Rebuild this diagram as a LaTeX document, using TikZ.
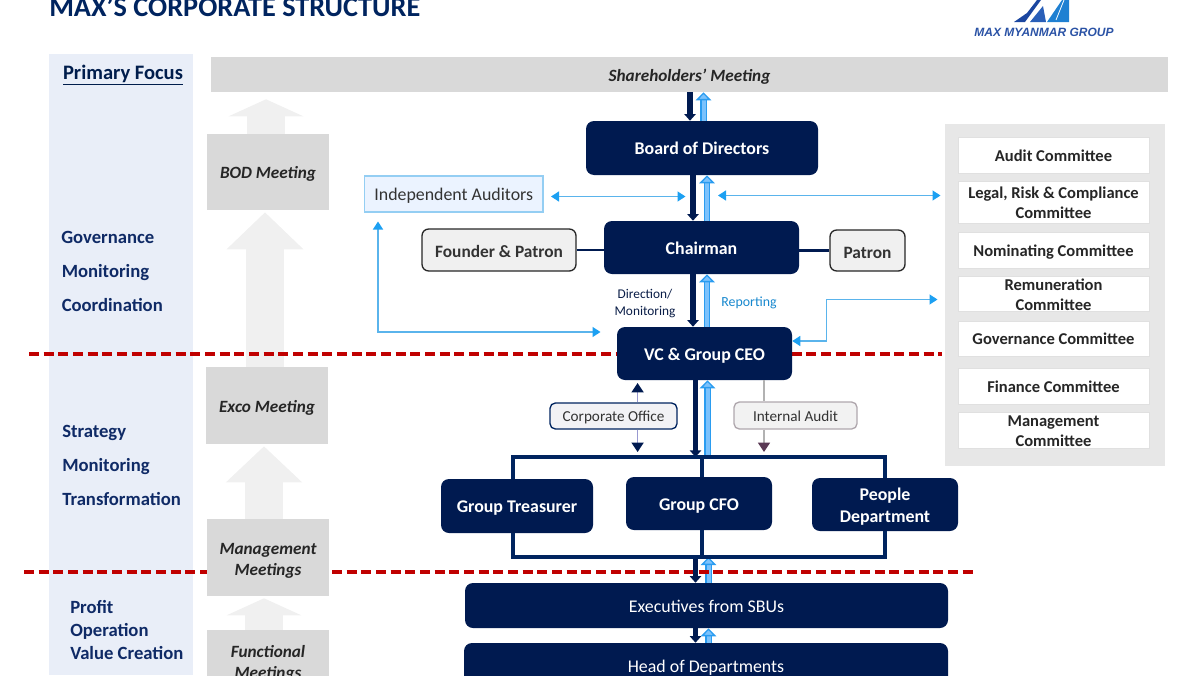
\documentclass[tikz,border=0pt]{standalone}
\usepackage{fontspec}
\setmainfont{Carlito}
\newfontfamily\logofont{Liberation Sans}
\usetikzlibrary{arrows.meta}
\pgfdeclarelayer{under}
\pgfsetlayers{under,main}
\definecolor{navy}{HTML}{001A50}
\definecolor{framenavy}{HTML}{00245F}
\definecolor{sidebar}{HTML}{E9EEF8}
\definecolor{midgray}{HTML}{D9D9D9}
\definecolor{palegray}{HTML}{F0F0F0}
\definecolor{panelgray}{HTML}{E7E7E7}
\definecolor{redline}{HTML}{C00000}
\definecolor{skyline}{HTML}{5AB4EC}
\definecolor{skytip}{HTML}{1CA0F2}
\definecolor{skyfill}{HTML}{7CC2FC}
\definecolor{skyedge}{HTML}{2A9CF0}
\definecolor{labelnavy}{HTML}{0F2A66}
\definecolor{plum}{HTML}{5B3A55}
\definecolor{logodark}{HTML}{1B46A0}
\definecolor{logomid}{HTML}{2A5FB8}
\definecolor{logolight}{HTML}{1F80D2}
\definecolor{logotextc}{HTML}{2A52A5}
\newcommand\nd[7][]{\node[#1,minimum width={(#5-#3)*0.75pt},minimum height={(#6-#4)*0.75pt}] (#2) at ({(#3+#5)/2},{(#4+#6)/2}) {#7};}
\newcommand\twoline[4][85pt]{\raisebox{#2}[0pt][0pt]{\parbox[c]{#1}{\centering #3\\#4}}}
\tikzset{
 base/.style={inner sep=0pt,align=center},
 vstrut/.style={execute at begin node={\rule[-.2em]{0pt}{#1}}},
 navybox/.style={base,vstrut=1.14em,fill=navy,rounded corners=6pt,text=white,font=\fontsize{13.4}{16.5}\selectfont\bfseries},
 widebox/.style={base,vstrut=1.14em,fill=navy,rounded corners=6pt,text=white,font=\fontsize{13.4}{15}\selectfont},
 palebox/.style={base,vstrut=1.27em,fill=black!6,draw=black!85,line width=1pt,rounded corners=5pt,text=black!80,font=\fontsize{13}{15}\selectfont\bfseries},
 meeting/.style={base,vstrut=1.18em,fill=midgray,text=black!85,font=\fontsize{12.9}{15.6}\selectfont\bfseries\itshape},
 committee/.style={base,vstrut=1.14em,fill=white,draw=black!12,line width=.5pt,text=black!85,font=\fontsize{12.4}{15}\selectfont\bfseries},
 focus/.style={inner sep=0pt,anchor=base west,text=labelnavy,font=\fontsize{14}{16}\selectfont\bfseries},
 darkarrow/.style={draw=navy,line width=3.9pt,-{Triangle[length=5pt,width=8.5pt]}},
 skyarrow/.style={draw=skyedge,line width=1pt,double=skyfill,double distance=3pt,-{Triangle[length=6pt,width=11.5pt,fill=skyfill,line width=1pt]}},
 thinarrow/.style={draw=skyline,line width=1pt,{Triangle[length=6pt,width=7.5pt,color=skytip]}-{Triangle[length=6pt,width=7.5pt,color=skytip]}},
 climb/.style={draw=palegray,line width=28.5pt},
 reddash/.style={draw=redline,line width=2.4pt,dash pattern=on 7.6pt off 3.4pt},
 frame/.style={draw=framenavy,line width=2.4pt},
 sideline/.style={draw=navy,line width=1.8pt},
 memo/.style={base,vstrut=1.14em,rounded corners=4pt,line width=1pt,font=\fontsize{11.4}{13}\selectfont,text=black!80},
}
\begin{document}
\begin{tikzpicture}[x=0.75pt,y=-0.75pt]
\useasboundingbox (0,0) rectangle (1200,675);
\clip (0,0) rectangle (1200,675);
\node[inner sep=0pt,anchor=base west,text=framenavy,font=\fontsize{21.2}{24}\selectfont\bfseries] (title) at (49,16) {MAX’S CORPORATE STRUCTURE};
% logo
\fill[logodark] (1014,22) -- (1027,13) -- (1037,0) -- (1041,0) -- (1025,22) -- cycle;
\fill[logomid] (1030,22) -- (1043,6) -- (1046,22) -- cycle;
\fill[logolight] (1047,22) -- (1062,0) -- (1069,0) -- (1069,22) -- cycle;
\draw[white,line width=.6pt] (1056,20) -- (1064,0);
\node[inner sep=0pt,text=logotextc,font=\logofont\fontsize{9}{11}\selectfont\bfseries\itshape] (logotext) at (1044,32) {MAX MYANMAR GROUP};
% boxes
\nd[base,vstrut=1.18em,fill=midgray,font=\fontsize{12.9}{15}\selectfont\bfseries\itshape,text=black!85]{share}{211}{57}{1168}{92}{Shareholders’ Meeting}
\nd[meeting]{bod}{207}{134}{329}{210}{BOD Meeting}
\nd[meeting]{exco}{206}{367}{328}{444}{Exco Meeting}
\nd[meeting]{mgmt}{207}{519}{329}{596}{\twoline{-.5pt}{Management}{Meetings}}
\nd[meeting]{func}{207}{630}{329}{691}{\twoline{0pt}{Functional}{Meetings}}
\nd[widebox]{exec}{465}{583}{948}{628}{Executives from SBUs}
\nd[widebox]{heads}{464}{643}{948}{688}{Head of Departments}
\nd[navybox]{treas}{441}{479}{593}{533}{Group Treasurer}
\nd[navybox]{cfo}{626}{477}{772}{530}{Group CFO}
\nd[navybox]{people}{812}{478}{958}{531}{\twoline{0pt}{People}{Department}}
\nd[navybox]{board}{586}{121}{818}{175}{Board of Directors}
\nd[navybox]{chair}{604}{221}{799}{274}{Chairman}
\nd[navybox]{vc}{617}{327}{792}{380}{VC \& Group CEO}
\nd[palebox]{founder}{422}{229}{576}{271}{Founder \& Patron}
\nd[palebox]{patron}{830}{230}{905}{271}{Patron}
\nd[base,vstrut=1.18em,fill=blue!60!cyan!8,draw=skyline!65,line width=1pt,text=black!80,font=\fontsize{13.4}{15}\selectfont]{audit}{364.5}{176}{543}{212}{Independent Auditors}
\nd[memo,fill=blue!20!black!5,draw=framenavy]{corp}{550}{403}{677}{429}{Corporate Office}
\nd[memo,fill=black!5,draw=plum!60!black!40]{inta}{734}{402}{857}{429}{Internal Audit}
% helper positions
\coordinate (ca) at (266,0);\coordinate (cb) at (265,0);\coordinate (cc) at (264,0);
\coordinate (r1a) at (29,354);\coordinate (r1b) at (942,354);
\coordinate (r2a) at (24,572);\coordinate (r2b) at (975,572);
\coordinate (xa) at (513,0);\coordinate (xb) at (702,0);\coordinate (xc) at (885,0);
\coordinate (ft) at (0,457);\coordinate (fb) at (0,557);
\coordinate (sl) at (708.5,0);\coordinate (dl) at (695.5,0);
\begin{pgfonlayer}{under}
\nd[base,fill=sidebar]{side}{49}{54}{193}{675}{}
\nd[base,fill=panelgray]{panel}{945}{124}{1165}{466}{}
\draw[climb,-{Triangle[length=12.75pt,width=55.5pt]},shorten >=5.25pt] (bod.north -| ca) -- (share.south -| ca);
\draw[climb,-{Triangle[length=27.75pt,width=56pt]},shorten >=1.5pt] (exco.north -| cb) -- (bod.south -| cb);
\draw[climb,-{Triangle[length=27pt,width=55.5pt]},shorten >=1.5pt] (mgmt.north -| cc) -- (exco.south -| cc);
\draw[climb,-{Triangle[length=12.75pt,width=55.5pt]},shorten >=1.5pt] (func.north -| cc) -- (mgmt.south -| cc);
\draw[skyarrow] (exec.north -| sl) -- (sl |- fb);
\draw[reddash] (r1a) -- (r1b);
\draw[reddash] (r2a) -- (r2b);
\end{pgfonlayer}
% committees
\nd[committee]{c1}{958}{137}{1149}{173}{Audit Committee}
\nd[committee]{c2}{958}{181}{1149}{223}{\twoline[135pt]{.75pt}{Legal, Risk \& Compliance}{Committee}}
\nd[committee]{c3}{958}{232}{1149}{268}{Nominating Committee}
\nd[committee]{c4}{958}{276}{1149}{311}{\twoline{.75pt}{Remuneration}{Committee}}
\nd[committee]{c5}{958}{321}{1149}{356}{Governance Committee}
\nd[committee]{c6}{958}{368}{1149}{404}{Finance Committee}
\nd[committee]{c7}{958}{412}{1149}{448}{\twoline{.75pt}{Management}{Committee}}
% main flow arrows
\coordinate (d0) at (690,0);\coordinate (s0) at (703.5,0);
\coordinate (d1) at (693,0);\coordinate (s1) at (707,0);
\draw[darkarrow] (share.south -| d0) -- (board.north -| d0);
\draw[skyarrow] (board.north -| s0) -- (share.south -| s0);
\draw[darkarrow] (board.south -| d1) -- (chair.north -| d1);
\draw[skyarrow] (chair.north -| s1) -- (board.south -| s1);
\draw[darkarrow] (chair.south -| d1) -- (vc.north -| d1);
\draw[skyarrow] (vc.north -| s1) -- (chair.south -| s1);
\draw[darkarrow] (vc.south -| dl) -- (dl |- ft);
\coordinate (s2) at (707.5,0);
\draw[skyarrow] (s2 |- ft) -- (vc.south -| s2);
\draw[darkarrow] (dl |- fb) -- (exec.north -| dl);
\draw[darkarrow] (exec.south -| dl) -- (heads.north -| dl);
\draw[skyarrow] (heads.north -| sl) -- (exec.south -| sl);
% frame above and below the three offices
\draw[frame] (treas.north -| xa) -- (xa |- ft) -- (xc |- ft) -- (people.north -| xc);
\draw[frame] (xb |- ft) -- (cfo.north -| xb);
\draw[frame] (treas.south -| xa) -- (xa |- fb) -- (xc |- fb) -- (people.south -| xc);
\draw[frame] (cfo.south -| xb) -- (xb |- fb);
% side links
\draw[sideline] (founder.east) -- (chair.west |- founder.east);
\draw[sideline] (chair.east |- patron.west) -- (patron.west);
% staff links
\coordinate (xco) at (637.6,0);\coordinate (xia) at (764,0);
\coordinate (co1) at (637.6,383);\coordinate (co2) at (637.6,452);\coordinate (ia2) at (764,452);
\draw[draw=black!45!blue!40,line width=1pt,-{Triangle[length=7pt,width=9pt,color=navy]}] (corp.north -| xco) -- (co1);
\draw[draw=black!45!blue!40,line width=1pt,-{Triangle[length=7pt,width=9pt,color=navy]}] (corp.south -| xco) -- (co2);
\draw[draw=black!30,line width=1pt] (vc.south -| xia) -- (inta.north -| xia);
\draw[draw=black!30,line width=1pt,-{Triangle[length=7pt,width=9pt,color=plum]}] (inta.south -| xia) -- (ia2);
% thin two-way arrows
\coordinate (t1a) at (551,196.5);\coordinate (t1b) at (685.5,196.5);
\coordinate (t2a) at (718,195.5);\coordinate (t2b) at (940.5,195.5);
\coordinate (t3a) at (378,221.5);\coordinate (t3m) at (378,332);\coordinate (t3b) at (600.5,332);
\coordinate (t4a) at (826.5,341);\coordinate (t4m) at (826.5,299.5);\coordinate (t4b) at (937.5,299.5);
\draw[thinarrow] (t1a) -- (t1b);
\draw[thinarrow] (t2a) -- (t2b);
\draw[thinarrow] (t3a) -- (t3m) -- (t3b);
\draw[thinarrow] (vc.east |- t4a) -- (t4a) -- (t4m) -- (t4b);
% labels
\node[inner sep=0pt,align=center,text=labelnavy!70!black,font=\fontsize{10}{12.2}\selectfont] (dir) at (645,303.5) {Direction/\\Monitoring};
\node[inner sep=0pt,text=skytip!85!black,font=\fontsize{10.4}{12}\selectfont] (rep) at (749,303) {Reporting};
\node[inner sep=0pt,anchor=base,text=framenavy!80!black,font=\fontsize{15.4}{17}\selectfont\bfseries] (pf) at (123,79) {\underline{Primary Focus}};
\node[focus] (g1) at (61,243) {Governance};
\node[focus] (g2) at (61.5,277) {Monitoring};
\node[focus] (g3) at (61.5,311) {Coordination};
\node[focus] (s1t) at (62,437) {Strategy};
\node[focus] (s2t) at (62,471) {Monitoring};
\node[focus] (s3t) at (62,505) {Transformation};
\node[focus] (p1) at (70,613) {Profit};
\node[focus] (p2) at (70,636) {Operation};
\node[focus] (p3) at (70,659.5) {Value Creation};
\end{tikzpicture}
\end{document}
